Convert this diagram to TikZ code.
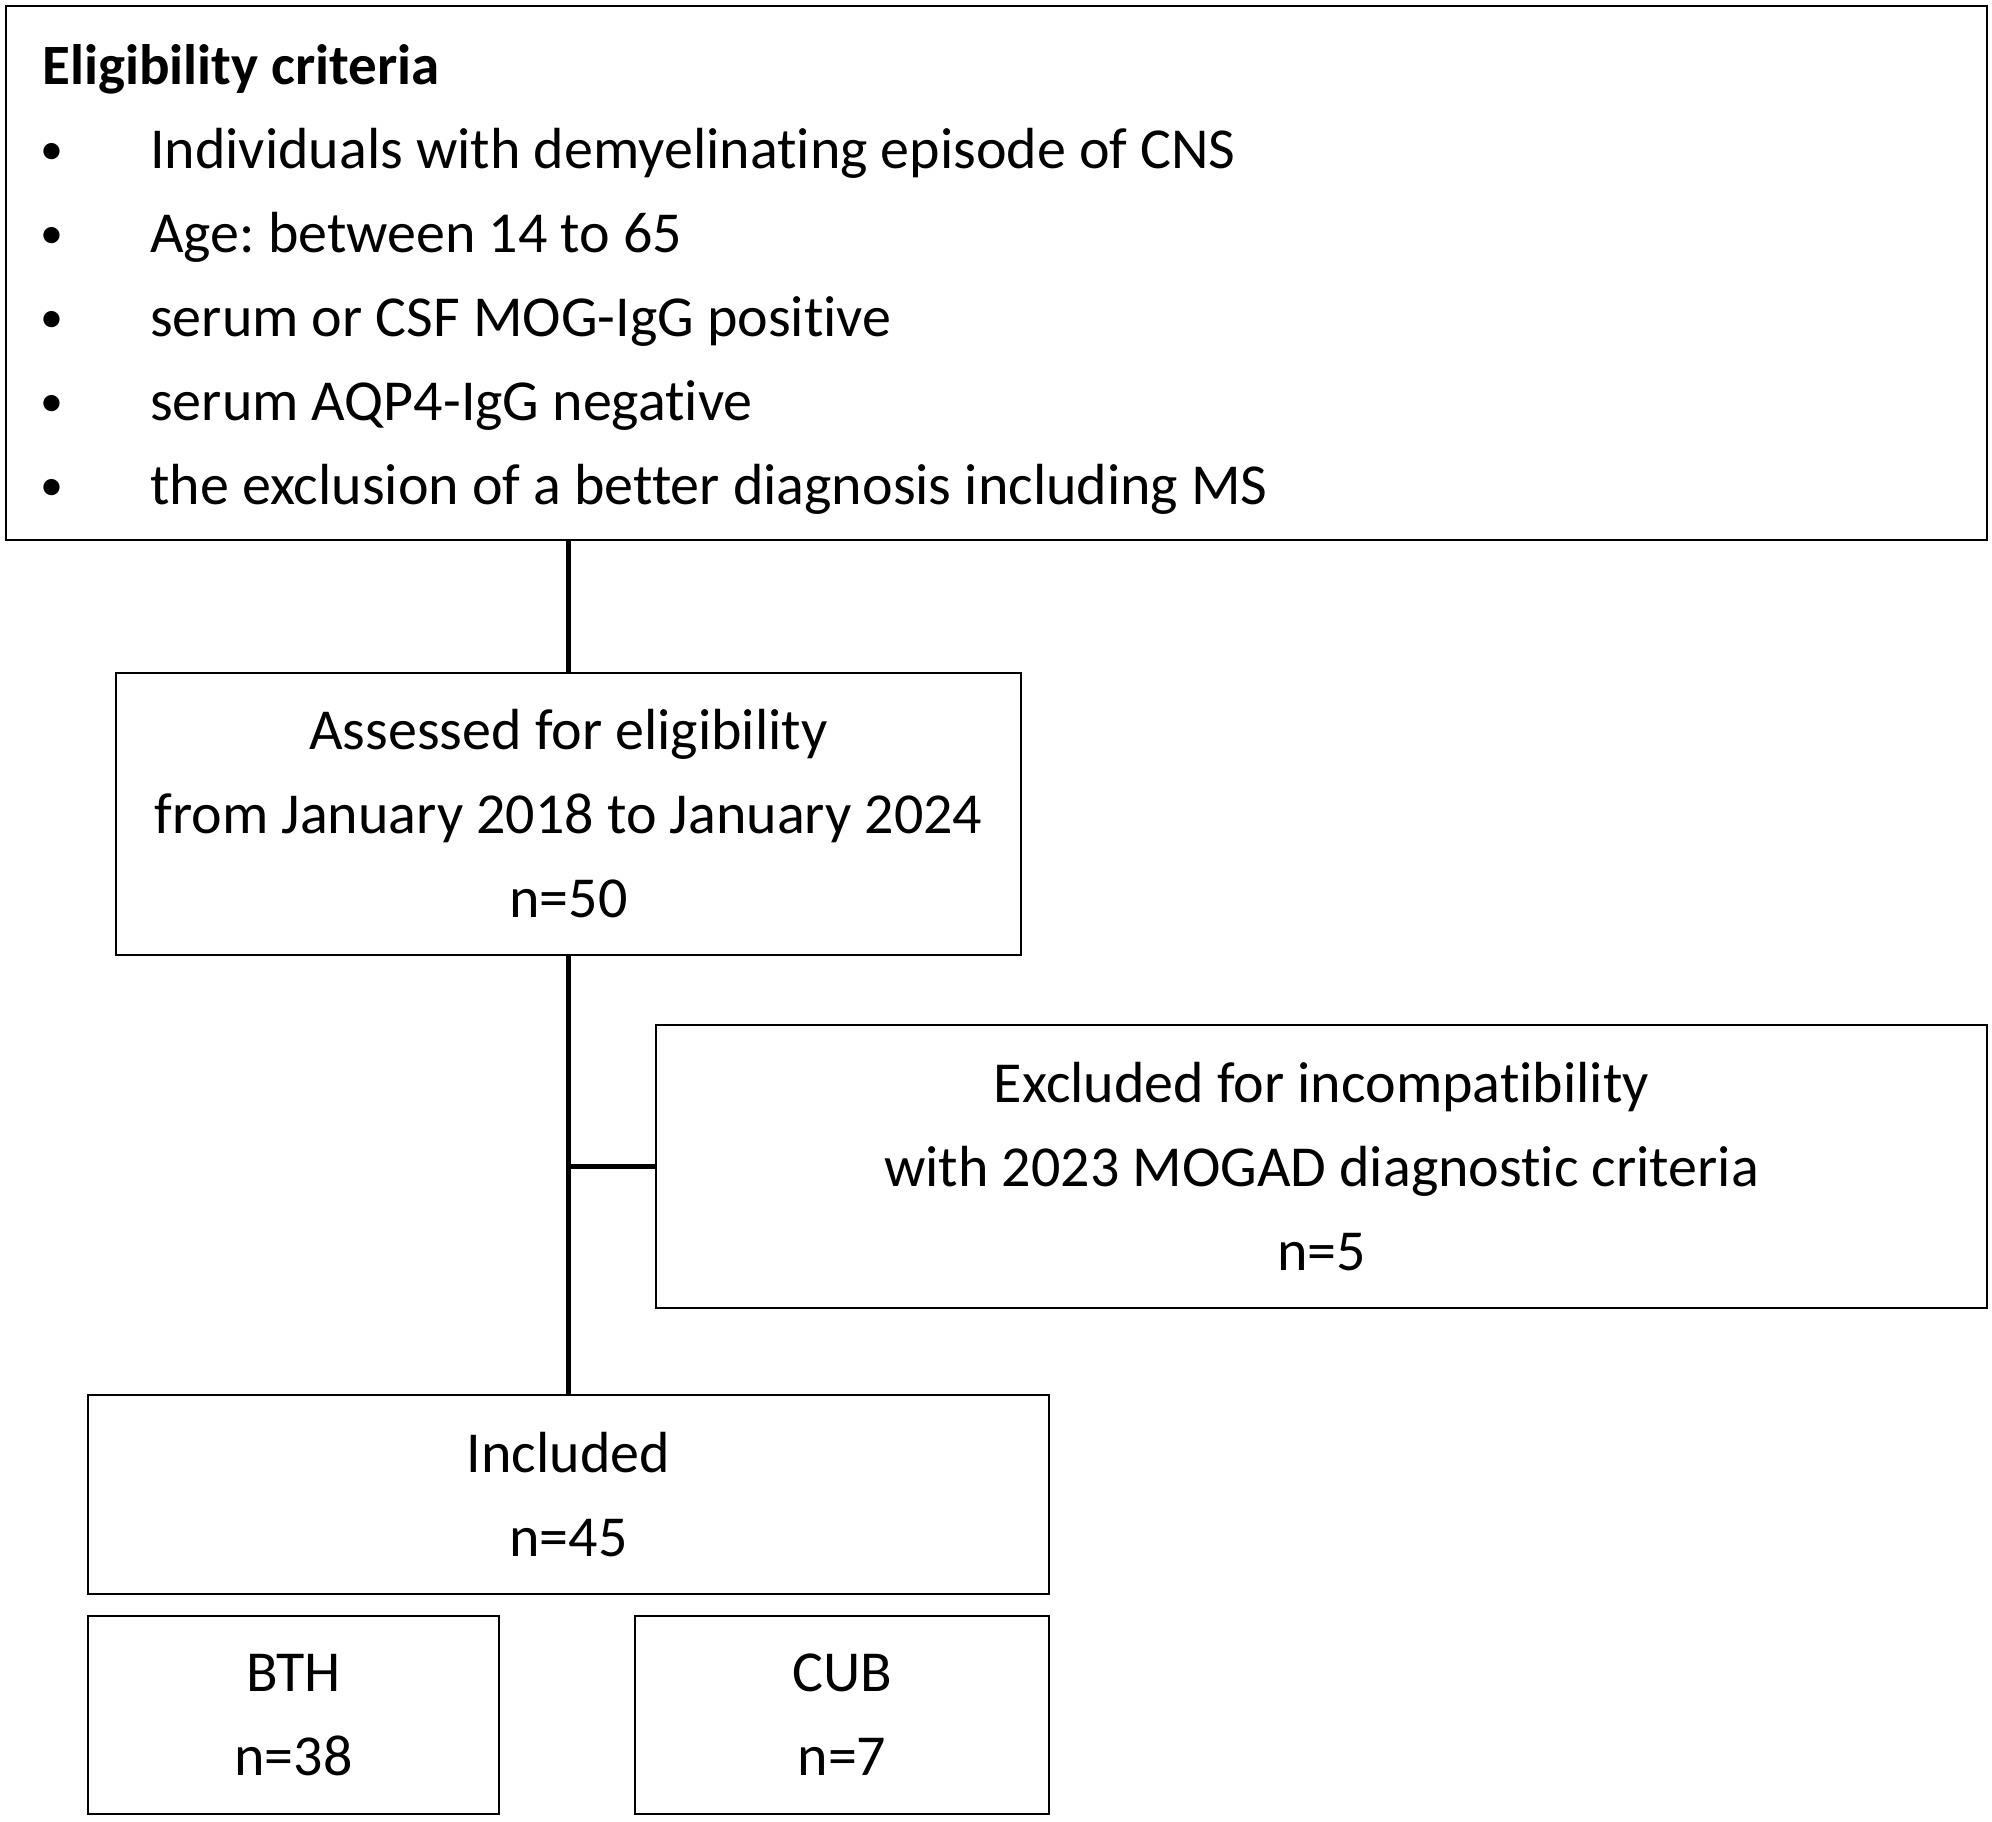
\documentclass[tikz,border=0pt]{standalone}
\usepackage{fontspec}
\setmainfont[Ligatures=NoCommon]{Carlito}
\frenchspacing
\begin{document}
\begin{tikzpicture}[x=1pt,y=-1pt,
  box/.style={draw,line width=2.7pt,inner sep=0pt,align=center,
    font=\fontsize{58}{84}\selectfont},
  conn/.style={line width=4.2pt},
  txt/.style={anchor=base west,inner sep=0pt,font=\fontsize{58}{84}\selectfont}]
\useasboundingbox (0,0) rectangle (1992,1821);
% boxes
\node[box,minimum width=1981pt,minimum height=534pt] (elig) at (996.5,273) {};
\node[box,minimum width=905pt,minimum height=282pt] (assess) at (568.5,814)
  {Assessed for eligibility\\from January 2018 to January 2024\\n=50};
\node[box,minimum width=1331pt,minimum height=283pt] (excl) at (1321.5,1166.5)
  {Excluded for incompatibility\\with 2023 MOGAD diagnostic criteria\\n=5};
\node[box,minimum width=961pt,minimum height=199pt] (incl) at (568.5,1494.5)
  {Included\\n=45};
\node[box,minimum width=411pt,minimum height=198pt] (bth) at (293.5,1715)
  {BTH\\n=38};
\node[box,minimum width=414pt,minimum height=198pt] (cub) at (842,1715)
  {CUB\\n=7};
% eligibility text
\node[txt,font=\fontsize{57}{84}\bfseries\selectfont] (head) at (42,84) {Eligibility criteria};
\foreach \i/\t in {1/Individuals with demyelinating episode of CNS,
                   2/Age: between 14 to 65,
                   3/serum or CSF MOG-IgG positive,
                   4/serum AQP4-IgG negative,
                   5/the exclusion of a better diagnosis including MS}{
  \node[txt,font=\fontsize{46}{84}\selectfont] (b\i) at (40,80+84*\i) {\textbullet};
  \node[txt] (t\i) at (150,84+84*\i) {\t};
}
% connectors
\draw[conn] (elig.south -| assess.north) -- (assess.north);
\draw[conn] (assess.south) -- (incl.north);
\draw[conn] (assess.south |- excl.west) -- (excl.west);
\end{tikzpicture}
\end{document}
